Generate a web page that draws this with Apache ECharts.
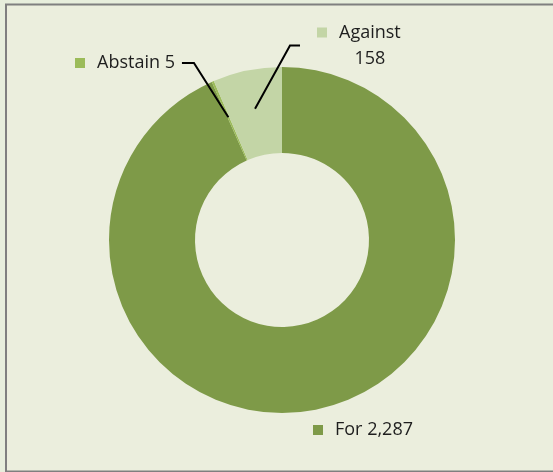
<!DOCTYPE html>
<html>
<head>
<meta charset="utf-8">
<script src="https://cdn.jsdelivr.net/npm/echarts@6/dist/echarts.min.js"></script>
<style>
  html, body { margin: 0; padding: 0; background: #E7EEDC; }
  #chart { width: 553px; height: 472px; }
</style>
</head>
<body>
<div id="chart"></div>
<script>
// Vote tally, clockwise from 12 o'clock
const categories = ['For', 'Abstain', 'Against'];
const votes = [2287, 5, 158];
const sliceColors = ['#7E9A48', '#9BBB59', '#C3D5A6'];
const keyColors = ['#7E9A48', '#9BBB59', '#C3D5A6'];

// Ring geometry (px)
const CX = 282, CY = 240, R_OUT = 173, R_IN = 87;
const LINE_R = 134; // leader lines start inside the ring

// Where each label block sits: left edge, anchor y, vertical anchor
const labelPlace = {
  'For':     { x: 313, y: 430, v: 'middle' },
  'Abstain': { x: 75,  y: 63,  v: 'middle' },
  'Against': { x: 317, y: 19.5, v: 'top' }
};

const total = votes.reduce((a, b) => a + b, 0);
function midAngle(i) {
  let cum = 0;
  for (let k = 0; k < i; k++) cum += votes[k];
  return (cum + votes[i] / 2) / total * 2 * Math.PI;
}
function fmt(n) { return n.toLocaleString('en-US'); }

const FONT = '"Open Sans", "Liberation Sans", sans-serif';
const rich = {};
categories.forEach((c, i) => {
  rich['sq' + i] = { width: 10, height: 10, lineHeight: 26, backgroundColor: keyColors[i], align: 'center' };
});
rich.g = { width: 12, height: 10, lineHeight: 26, align: 'center' };
rich.sp = { width: 22, height: 10, lineHeight: 26, align: 'center' };
rich.t = { fontFamily: FONT, fontSize: 18, color: '#1E1E1E', lineHeight: 26, align: 'center' };

const ringData = categories.map((c, i) => ({
  name: c,
  value: votes[i],
  itemStyle: { color: sliceColors[i] }
}));

// Same slices again, invisible, so the labels and leader lines draw over the ring
const labelData = categories.map((c, i) => ({
  name: c,
  value: votes[i],
  itemStyle: { color: 'rgba(0,0,0,0)' },
  labelLine: { show: c !== 'For' }
}));

const common = {
  type: 'pie',
  center: [CX, CY],
  radius: [R_IN, R_OUT],
  startAngle: 90,
  clockwise: true,
  avoidLabelOverlap: false,
  silent: true,
  itemStyle: { borderWidth: 0 },
  emphasis: { disabled: true }
};

const chart = echarts.init(document.getElementById('chart'), null, { renderer: 'canvas' });
chart.setOption({
  animation: false,
  graphic: [{
    type: 'rect',
    z: -10,
    shape: { x: 6, y: 4.5, width: 600, height: 467 },
    style: { fill: '#EBEEDD', stroke: '#7F7F7F', lineWidth: 2 }
  }],
  series: [
    Object.assign({}, common, {
      z: 2,
      data: ringData,
      label: { show: false },
      labelLine: { show: false }
    }),
    Object.assign({}, common, {
      z: 5,
      data: labelData,
      label: {
        show: true,
        position: 'outside',
        rich: rich,
        formatter: function (p) {
          const i = p.dataIndex;
          if (p.name === 'Against') {
            return '{sq' + i + '|}{g|}{t|' + p.name + '}\n{sp|}{t|' + fmt(p.value) + '}';
          }
          return '{sq' + i + '|}{g|}{t|' + p.name + ' ' + fmt(p.value) + '}';
        }
      },
      labelLine: {
        show: true,
        lineStyle: { color: '#000000', width: 2 }
      },
      labelLayout: function (params) {
        const i = params.dataIndex;
        const name = categories[i];
        const pos = labelPlace[name];
        const w = params.labelRect.width;
        const out = { x: pos.x, y: pos.y, align: 'left', verticalAlign: pos.v };
        const a = midAngle(i);
        const p0 = [CX + LINE_R * Math.sin(a), CY - LINE_R * Math.cos(a)];
        if (name === 'Against') {
          const p2 = [pos.x - 17, pos.y + 26];
          out.labelLinePoints = [p0, [p2[0] - 10, p2[1]], p2];
        } else if (name === 'Abstain') {
          const p2 = [pos.x + w + 7, pos.y];
          out.labelLinePoints = [p0, [p2[0] + 12, p2[1]], p2];
        }
        return out;
      }
    })
  ]
});
</script>
</body>
</html>
